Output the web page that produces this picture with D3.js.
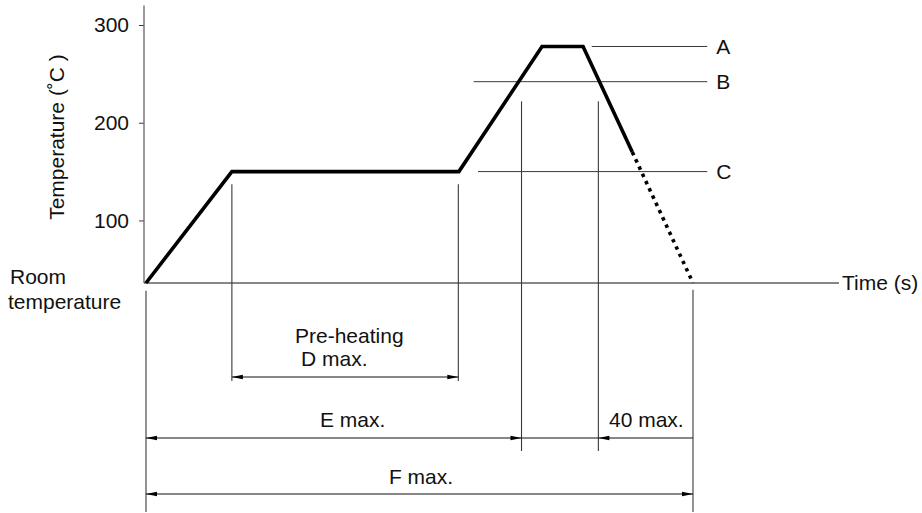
<!DOCTYPE html>
<html>
<head>
<meta charset="utf-8">
<script src="https://cdn.jsdelivr.net/npm/d3@7"></script>
<style>
  html, body { margin: 0; padding: 0; background: #fff; }
  svg { display: block; }
  text { font-family: "Liberation Sans", Arial, Helvetica, sans-serif; fill: #111; }
</style>
</head>
<body>
<svg id="chart" width="922" height="513"></svg>
<script>
// Reflow soldering temperature profile (schematic time units, 0..100)
const ROOM = 36;                       // room-temperature level on the temperature scale
const yTicks = [100, 200, 300];

// Profile: solid part, then the dotted cooling tail
const profileTime = [0, 15.7, 57.2, 72.4, 79.9, 88.9];
const profileTemp = [ROOM, 150, 150, 278, 278, 170];
const tailTime = [88.9, 100];
const tailTemp = [170, ROOM];

// Temperature levels A, B, C
const levelNames = ["A", "B", "C"];
const levelTemp = [278, 242, 150];
const levelStart = [81.5, 59.9, 60.7];
const levelEnd = 102.6;

// Time markers (vertical guides) and where their guide lines begin
const markerTime = [0, 15.7, 57.1, 68.65, 82.7, 100];
const markerTopTemp = [28, 137, 137, 222, 222, 29];
const markerBottomRow = [3, 1, 1, 2, 2, 3];   // dimension row each guide runs down to

// Dimension annotations
const dimText = ["Pre-heating", "D max.", "E max.", "40 max.", "F max."];

const FS = "21px";
const svg = d3.select("#chart");

const x = d3.scaleLinear().domain([0, 100]).range([146, 693]);
const y = d3.scaleLinear().domain([ROOM, 300]).range([283, 25]);

// layout rows for the dimension lines below the axis
const rowY = { 1: 377, 2: 438, 3: 494 };
const rowBottom = { 1: 381, 2: 451, 3: 512 };

const thin = "#3a3a3a";

// Y axis
const yAxis = d3.axisLeft(y).tickValues(yTicks).tickSize(5).tickPadding(10).tickSizeOuter(0);
const gy = svg.append("g").attr("transform", `translate(${x(0) - 2},0)`).call(yAxis);
gy.select(".domain").remove();
gy.selectAll(".tick line").attr("stroke", thin);
gy.selectAll(".tick text")
  .style("font-family", '"Liberation Sans", Arial, sans-serif')
  .style("font-size", FS).attr("fill", "#111");
svg.append("line")
  .attr("x1", x(0) - 2).attr("x2", x(0) - 2)
  .attr("y1", y(ROOM)).attr("y2", y(320))
  .attr("stroke", "#666").attr("stroke-width", 1.3);

// Time axis (baseline at room temperature)
svg.append("line")
  .attr("x1", x(0) - 2).attr("x2", 839)
  .attr("y1", y(ROOM)).attr("y2", y(ROOM))
  .attr("stroke", "#111").attr("stroke-width", 1.2);

svg.append("text").attr("x", 842).attr("y", y(ROOM) + 7)
  .style("font-size", FS).text("Time (s)");

svg.append("text")
  .attr("transform", `translate(64,${y(ROOM) - 146}) rotate(-90)`)
  .attr("text-anchor", "middle")
  .style("font-size", FS).text("Temperature (˚C )");

svg.append("text").attr("x", 10).attr("y", y(ROOM) + 1)
  .style("font-size", FS).text("Room");
svg.append("text").attr("x", 8).attr("y", y(ROOM) + 26)
  .style("font-size", FS).text("temperature");

// Level lines A, B, C
levelNames.forEach((name, i) => {
  svg.append("line")
    .attr("x1", x(levelStart[i])).attr("x2", x(levelEnd))
    .attr("y1", y(levelTemp[i])).attr("y2", y(levelTemp[i]))
    .attr("stroke", thin).attr("stroke-width", 1);
  svg.append("text")
    .attr("x", x(levelEnd) + 9).attr("y", y(levelTemp[i]) + 7)
    .style("font-size", FS).text(name);
});

// Vertical guides
markerTime.forEach((t, i) => {
  svg.append("line")
    .attr("x1", x(t)).attr("x2", x(t))
    .attr("y1", y(markerTopTemp[i])).attr("y2", rowBottom[markerBottomRow[i]])
    .attr("stroke", thin).attr("stroke-width", 1.1);
});

// Profile curve
const line = d3.line().x(d => x(d[0])).y(d => y(d[1]));
svg.append("path")
  .datum(d3.zip(profileTime, profileTemp))
  .attr("d", line)
  .attr("fill", "none").attr("stroke", "#000")
  .attr("stroke-width", 3.6).attr("stroke-linejoin", "miter");
svg.append("path")
  .datum(d3.zip(tailTime, tailTemp))
  .attr("d", line)
  .attr("fill", "none").attr("stroke", "#000")
  .attr("stroke-width", 3.6).attr("stroke-dasharray", "3.5,4.5");

// Dimension lines with arrowheads
function arrowHead(px, py, dir) {
  // dir: -1 points left, +1 points right; tip at (px, py)
  const L = 11, h = 2.2;
  svg.append("path")
    .attr("d", `M${px},${py} L${px - dir * L},${py - h} L${px - dir * L},${py + h} Z`)
    .attr("fill", "#000");
}
function dimLine(t0, t1, row) {
  svg.append("line")
    .attr("x1", x(t0)).attr("x2", x(t1))
    .attr("y1", rowY[row]).attr("y2", rowY[row])
    .attr("stroke", "#111").attr("stroke-width", 1.2);
}

// D: pre-heating
dimLine(markerTime[1], markerTime[2], 1);
arrowHead(x(markerTime[1]), rowY[1], -1);
arrowHead(x(markerTime[2]), rowY[1], 1);

// E and the 40 s window
dimLine(markerTime[0], markerTime[5], 2);
arrowHead(x(markerTime[0]), rowY[2], -1);
arrowHead(x(markerTime[3]), rowY[2], 1);
arrowHead(x(markerTime[4]), rowY[2], -1);

// F: whole profile
dimLine(markerTime[0], markerTime[5], 3);
arrowHead(x(markerTime[0]), rowY[3], -1);
arrowHead(x(markerTime[5]), rowY[3], 1);

svg.append("text").attr("x", 295).attr("y", 343).style("font-size", FS).text(dimText[0]);
svg.append("text").attr("x", 301).attr("y", 366).style("font-size", FS).text(dimText[1]);
svg.append("text").attr("x", 320).attr("y", 427).style("font-size", FS).text(dimText[2]);
svg.append("text").attr("x", 609).attr("y", 427).style("font-size", FS).text(dimText[3]);
svg.append("text").attr("x", 421).attr("y", 484).attr("text-anchor", "middle")
  .style("font-size", FS).text(dimText[4]);
</script>
</body>
</html>
